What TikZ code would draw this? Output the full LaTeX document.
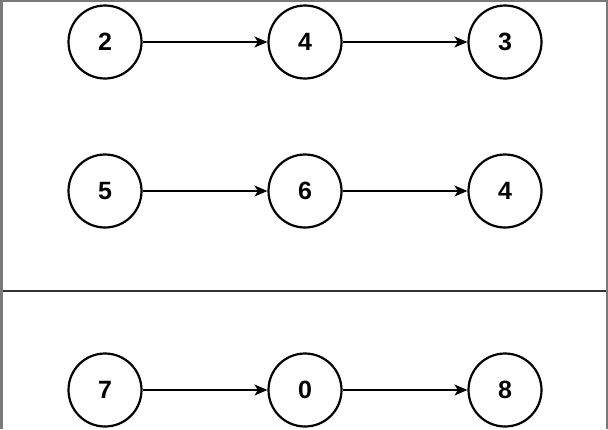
\documentclass[tikz,border=0pt]{standalone}
\usepackage{fontspec}
\setmainfont{Liberation Sans}
\usetikzlibrary{arrows.meta}
\begin{document}
\begin{tikzpicture}[x=1pt,y=-1pt,
  listnode/.style={circle,draw=black,line width=2.2pt,minimum size=73pt,inner sep=0pt,font=\fontsize{25}{30}\selectfont\bfseries,fill=white},
  link/.style={line width=1.6pt,-{Stealth[length=13pt,width=11pt,inset=3.5pt]}},
  frame/.style={fill=gray!95!black,draw=none}]
\useasboundingbox (0,0) rectangle (608,429);
\fill[white] (0,0) rectangle (608,429);
\fill[frame] (0,0) rectangle (3,429);
\fill[frame] (0,0) rectangle (608,2);
\fill[frame] (606,0) rectangle (608,429);
\node[listnode] (a1) at (105,42) {2};
\node[listnode] (a2) at (305,42) {4};
\node[listnode] (a3) at (505,42) {3};
\node[listnode] (b1) at (105,191) {5};
\node[listnode] (b2) at (305,191) {6};
\node[listnode] (b3) at (505,191) {4};
\node[listnode] (c1) at (105,390) {7};
\node[listnode] (c2) at (305,390) {0};
\node[listnode] (c3) at (505,390) {8};
\foreach \r in {a,b,c}{
  \draw[link] (\r1) -- (\r2);
  \draw[link] (\r2) -- (\r3);
}
\coordinate (sl) at (3,291);
\coordinate (sr) at (606,291);
\draw[line width=2.2pt,black!80] (sl) -- (sr);
\end{tikzpicture}
\end{document}
